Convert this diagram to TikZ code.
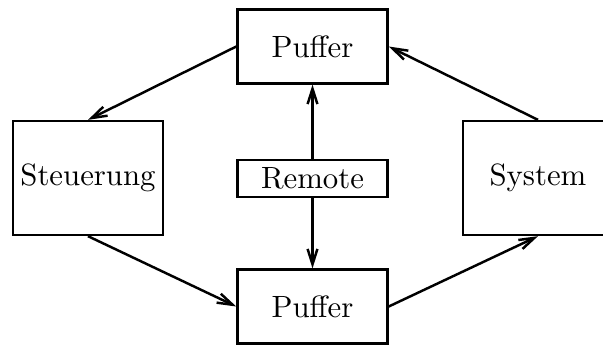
\documentclass[tikz,border=0pt]{standalone}
\usetikzlibrary{arrows.meta}

\begin{document}
\begin{tikzpicture}[x=0.325pt,y=-0.325pt,line width=0.8pt,
    ->,>={Straight Barb[length=5pt,width=3.2pt]}]
    \tikzstyle{block}=[rectangle,draw=black,inner sep=0pt,minimum width=48.75pt]
    \tikzstyle{puffer}=[block,minimum height=24pt]
    \tikzstyle{unit}=[block,minimum height=37pt]
    \tikzstyle{remote}=[block,minimum height=12pt]

    \useasboundingbox (0,0) rectangle (603,348);

    % Knoten
    \node[puffer] (P1) at (312.5,46.5) {Puffer};
    \node[unit] (St) at (88,178) {Steuerung};
    \node[remote] (R) at (312.5,178.5) {Remote};
    \node[unit] (Sy) at (538,178) {System};
    \node[puffer] (P2) at (312.5,306.5) {Puffer};

    % Verbindungen
    \draw (P1.west) -- (St.north);
    \draw (St.south) -- (P2.west);
    \draw (P2.east) -- (Sy.south);
    \draw (Sy.north) -- (P1.east);
    \draw (R.north) -- (P1.south);
    \draw (R.south) -- (P2.north);

\end{tikzpicture}
\end{document}
